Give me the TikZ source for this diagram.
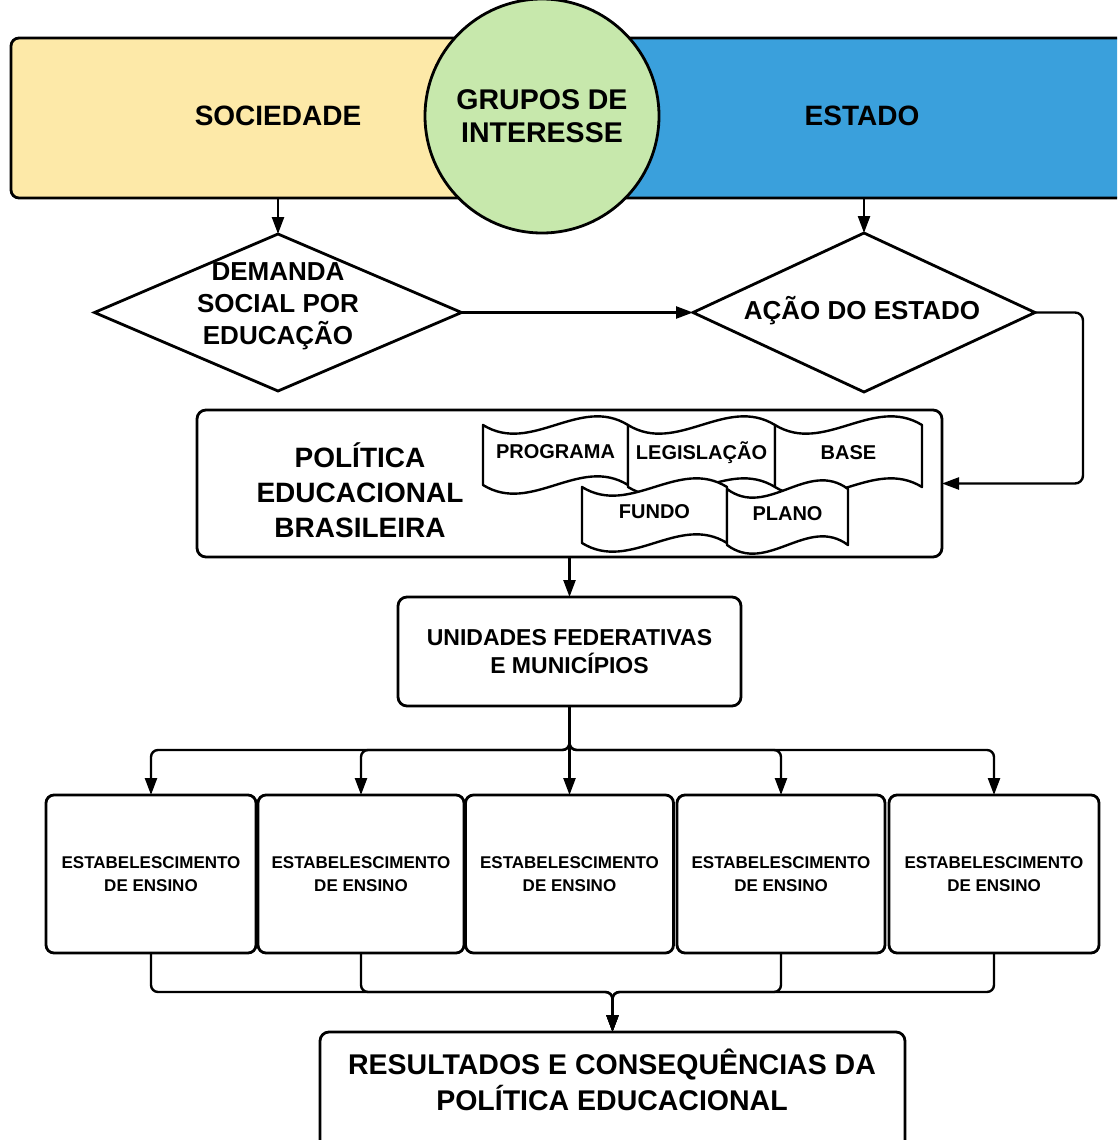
\documentclass[tikz,border=0pt]{standalone}
\usepackage{fontspec}
\setmainfont{Liberation Sans}
\usetikzlibrary{shapes.geometric,arrows.meta,calc}
\definecolor{socy}{RGB}{253,233,168}
\definecolor{estb}{RGB}{58,160,220}
\definecolor{grpg}{RGB}{199,232,172}
\newcommand\wdoc[6]{%
  \node[docbox, minimum width=#4, minimum height=#5] (#1) at (#2,#3) {};
  \filldraw[docline] (#1.north west) .. controls +(#4/3,30) and +(-#4/3,-30) .. (#1.north east)
     -- (#1.south east) .. controls +(-#4/3,-30) and +(#4/3,30) .. (#1.south west) -- cycle;
  \node[doctext] (#1t) at ($(#1)+(0,-3)$) {#6};}
\begin{document}
\begin{tikzpicture}[x=1pt,y=-1pt,
  box/.style={draw, fill=white, rounded corners=9, line width=2.8pt, inner sep=0, outer sep=0, align=center},
  diam/.style={diamond, draw, fill=white, line width=2.8pt, inner sep=0, outer sep=0},
  arr/.style={line width=2.4pt, -{Triangle[length=17pt,width=12pt]}},
  con/.style={line width=2.4pt},
  big/.style={font=\fontsize{28}{35}\selectfont\bfseries, align=center, inner sep=0},
  mid/.style={font=\fontsize{26}{32}\selectfont\bfseries, align=center, inner sep=0},
  docbox/.style={rectangle, inner sep=0, outer sep=0},
  docline/.style={fill=white, draw, line width=2.4pt, line join=round},
  doctext/.style={font=\fontsize{20}{24}\selectfont\bfseries, inner sep=0},
  estab/.style={box, rounded corners=8, minimum height=158, font=\fontsize{17}{23}\selectfont\bfseries}
]
\clip (0,0) rectangle (1117,1140);
\fill[white] (0,0) rectangle (1117,1140);

% top band
\fill[socy, rounded corners=8] (11,38) rectangle (560,198);
\fill[estb] (520,38) rectangle (1130,198);
\node[draw, rounded corners=8, line width=2.8pt, minimum width=1119, minimum height=160, inner sep=0, outer sep=0] (band) at (570.5,118) {};
\node[big] (soct) at (278,116) {SOCIEDADE};
\node[big] (estt) at (862,116) {ESTADO};
\node[circle, draw, fill=grpg, line width=2.8pt, minimum size=234, inner sep=0,
      font=\fontsize{28.5}{33}\selectfont\bfseries, align=center] (grp) at (542,116) {GRUPOS DE\\INTERESSE};

% diamonds
\node[diam, minimum width=367, minimum height=157] (d1) at (278,312.5) {};
\node[mid] (d1t) at (278,306) {DEMANDA\\SOCIAL POR\\EDUCAÇÃO};
\node[diam, minimum width=342, minimum height=159] (d2) at (864,312.5) {};
\node[mid] (d2t) at (862,311) {AÇÃO DO ESTADO};

\draw[arr] (band.south -| d1.north) -- (d1.north);
\draw[arr] (band.south -| d2.north) -- (d2.north);
\draw[arr] (d1.east) -- (d2.west);

% policy box
\node[box, minimum width=745, minimum height=147] (peb) at (569.5,483.5) {};
\node[big] (pebt) at (360,490) {POLÍTICA\\EDUCACIONAL\\BRASILEIRA};
\draw[arr, rounded corners=8] (d2.east) -- ++(48,0) |- (peb.east);

\wdoc{prog}{555.5}{455}{145}{60}{PROGRAMA}
\wdoc{legi}{701.5}{456}{147}{62}{LEGISLAÇÃO}
\wdoc{base}{848.5}{456}{147}{62}{BASE}
\wdoc{fund}{654.5}{515}{145}{56}{FUNDO}
\wdoc{plan}{787.5}{517}{121}{56}{PLANO}

% units
\node[box, minimum width=343, minimum height=109, font=\fontsize{23}{28}\selectfont\bfseries] (uf) at (569.5,651.5) {UNIDADES FEDERATIVAS\\E MUNICÍPIOS};
\draw[arr] (peb.south) -- (uf.north);

% establishments
\node[estab, minimum width=210] (e1) at (151,874) {ESTABELESCIMENTO\\DE ENSINO};
\node[estab, minimum width=206] (e2) at (361,874) {ESTABELESCIMENTO\\DE ENSINO};
\node[estab, minimum width=208] (e3) at (569.5,874) {ESTABELESCIMENTO\\DE ENSINO};
\node[estab, minimum width=208] (e4) at (781,874) {ESTABELESCIMENTO\\DE ENSINO};
\node[estab, minimum width=210] (e5) at (994,874) {ESTABELESCIMENTO\\DE ENSINO};

\coordinate (split) at ($(uf.south)+(0,44)$);
\foreach \e in {e1,e2,e4,e5}
  \draw[arr, rounded corners=7] (uf.south) -- (split) -| (\e.north);
\draw[arr] (uf.south) -- (e3.north);

% results
\node[box, minimum width=585, minimum height=118, anchor=north] (res) at (612.5,1032) {};
\node[big, font=\fontsize{28.5}{36}\selectfont\bfseries] (rest) at (612,1080) {RESULTADOS E CONSEQUÊNCIAS DA\\POLÍTICA EDUCACIONAL};
\coordinate (merge) at ($(res.north)+(0,-40)$);
\foreach \e in {e1,e2,e4,e5}
  \draw[arr, rounded corners=7] (\e.south) |- (merge) -- (res.north);
\end{tikzpicture}
\end{document}
